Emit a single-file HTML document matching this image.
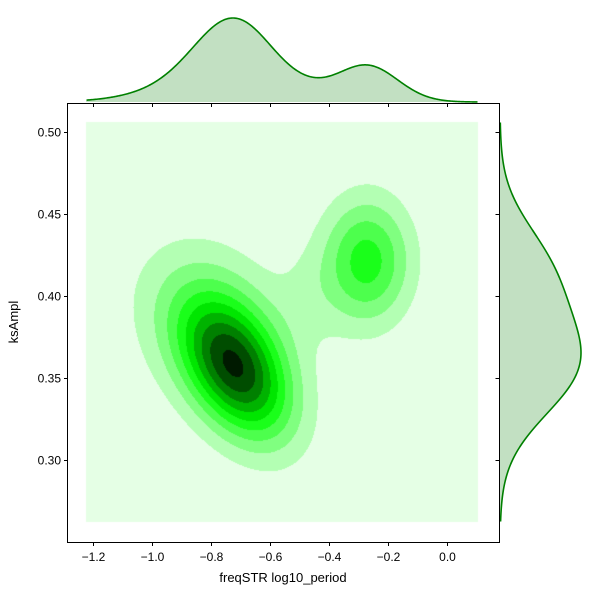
<!DOCTYPE html>
<html><head><meta charset="utf-8"><style>
body{margin:0;background:#fff;}
#wrap{position:relative;width:600px;height:600px;font-family:"Liberation Sans",sans-serif;}
canvas,svg{position:absolute;left:0;top:0;}
</style></head><body>
<div id="wrap">
<canvas id="cv" width="600" height="600"></canvas>
<svg id="sv" width="600" height="600"></svg>
</div>
<script>
// ---- data ----
const xTicks = [-1.2, -1.0, -0.8, -0.6, -0.4, -0.2, 0.0];
const xTickLabels = ["\u22121.2","\u22121.0","\u22120.8","\u22120.6","\u22120.4","\u22120.2","0.0"];
const yTicks = [0.30, 0.35, 0.40, 0.45, 0.50];
const yTickLabels = ["0.30","0.35","0.40","0.45","0.50"];
const gridX = [-1.224, 0.104];
const gridY = [0.262, 0.506];
// mixture components of the density: mean x, mean y, sd x, sd y, correlation, amplitude
const compMx = [-0.715, -0.80, -0.272, -0.47];
const compMy = [0.355, 0.385, 0.4213, 0.40];
const compSx = [0.13, 0.19, 0.105, 0.08];
const compSy = [0.030, 0.036, 0.027, 0.022];
const compRho = [-0.42, -0.2, 0.0, 0.0];
const compAmp = [1.0, 0.26, 0.57, 0.08];
const levelColors = ["#e5ffe5","#b3ffb3","#80ff80","#4dff4d","#1aff1a","#00e600","#00b300","#008000","#004d00","#001a00"];

// ---- axes ----
const X0 = 447, KX = 295, Y0 = 296, KY = 1640;
const sx = v => X0 + v * KX;
const sy = v => Y0 - (v - 0.40) * KY;
const ix = p => (p - X0) / KX;
const iy = p => 0.40 - (p - Y0) / KY;

function dens(x, y) {
  let s = 0;
  for (let i = 0; i < compAmp.length; i++) {
    const u = (x - compMx[i]) / compSx[i], v = (y - compMy[i]) / compSy[i], r = compRho[i];
    s += compAmp[i] * Math.exp(-(u*u - 2*r*u*v + v*v) / (2*(1 - r*r)));
  }
  return s;
}

const cv = document.getElementById('cv'), ctx = cv.getContext('2d');
const px0 = Math.round(sx(gridX[0])), px1 = Math.round(sx(gridX[1]));
const py0 = Math.round(sy(gridY[1])), py1 = Math.round(sy(gridY[0]));
const W = px1 - px0, H = py1 - py0;
const D = [];
let mx = 0;
for (let j = 0; j < H; j++) { D.push([]); for (let i = 0; i < W; i++) {
  const d = dens(ix(px0 + i + 0.5), iy(py0 + j + 0.5)); D[j].push(d); if (d > mx) mx = d; } }
const L = mx / 9.3;
const img = ctx.createImageData(W, H);
const rgb = levelColors.map(c => [parseInt(c.substr(1,2),16), parseInt(c.substr(3,2),16), parseInt(c.substr(5,2),16)]);
for (let j = 0; j < H; j++) for (let i = 0; i < W; i++) {
  const k = Math.min(9, Math.floor(D[j][i] / L)), o = (j*W + i)*4;
  img.data[o] = rgb[k][0]; img.data[o+1] = rgb[k][1]; img.data[o+2] = rgb[k][2]; img.data[o+3] = 255;
}
ctx.putImageData(img, px0, py0);

// marginals from density
const mxArr = [], myArr = [];
for (let i = 0; i < W; i++) { let s = 0; for (let j = 0; j < H; j++) s += D[j][i]; mxArr.push(s); }
for (let j = 0; j < H; j++) { let s = 0; for (let i = 0; i < W; i++) s += D[j][i]; myArr.push(s); }
const mxMax = Math.max(...mxArr), myMax = Math.max(...myArr);

const NS = "http://www.w3.org/2000/svg", sv = document.getElementById('sv');
function mk(tag, attrs, parent) { const e = document.createElementNS(NS, tag); for (const k in attrs) e.setAttribute(k, attrs[k]); (parent||sv).appendChild(e); return e; }

// top marginal
let d = `M${px0},102`;
mxArr.forEach((v, i) => { d += ` L${px0+i+0.5},${102 - v/mxMax*84}`; });
let dl = d.replace(`M${px0},102 L`, 'M');
const tf = mk('path', {d: d + ` L${px1},102 Z`, fill: '#c2e0c2', stroke: 'none'});
 
const tl = mk('path', {d: dl, fill: 'none', stroke: '#008000', 'stroke-width': 1.6});
 
// right marginal
d = `M500,${py0}`;
myArr.forEach((v, j) => { d += ` L${500 + v/myMax*81},${py0+j+0.5}`; });
dl = d.replace(`M500,${py0} L`, 'M');
const rf = mk('path', {d: d + ` L500,${py1} Z`, fill: '#c2e0c2', stroke: 'none'});
 
const rl = mk('path', {d: dl, fill: 'none', stroke: '#008000', 'stroke-width': 1.6});
 

// frame
const fr = mk('rect', {x: 67.5, y: 103.5, width: 432, height: 439, fill: 'none', stroke: '#000', 'stroke-width': 1});
 

xTicks.forEach((t, i) => {
  const x = Math.round(sx(t)) + 0.5;
  const a = mk('line', {x1: x, x2: x, y1: 542.5, y2: 546, stroke: '#000'});
   
  const b = mk('line', {x1: x, x2: x, y1: 103.5, y2: 107, stroke: '#000'});
   
  const tx = mk('text', {x: x, y: 561, 'text-anchor': 'middle', 'font-size': 12, fill: '#000'});
  tx.textContent = xTickLabels[i];
   
});
yTicks.forEach((t, i) => {
  const y = Math.round(sy(t)) + 0.5;
  const a = mk('line', {x1: 64, x2: 67.5, y1: y, y2: y, stroke: '#000'});
   
  const b = mk('line', {x1: 495.5, x2: 499.5, y1: y, y2: y, stroke: '#000'});
   
  const tx = mk('text', {x: 61, y: y + 4, 'text-anchor': 'end', 'font-size': 12, fill: '#000'});
  tx.textContent = yTickLabels[i];
   
});
const xt = mk('text', {x: 283, y: 582, 'text-anchor': 'middle', 'font-size': 13, fill: '#000'});
xt.textContent = 'freqSTR log10_period';
 
const yt = mk('text', {x: 18, y: 322, 'text-anchor': 'middle', 'font-size': 13, fill: '#000', transform: 'rotate(-90 18 322)'});
yt.textContent = 'ksAmpl';
 
</script>
</body></html>
